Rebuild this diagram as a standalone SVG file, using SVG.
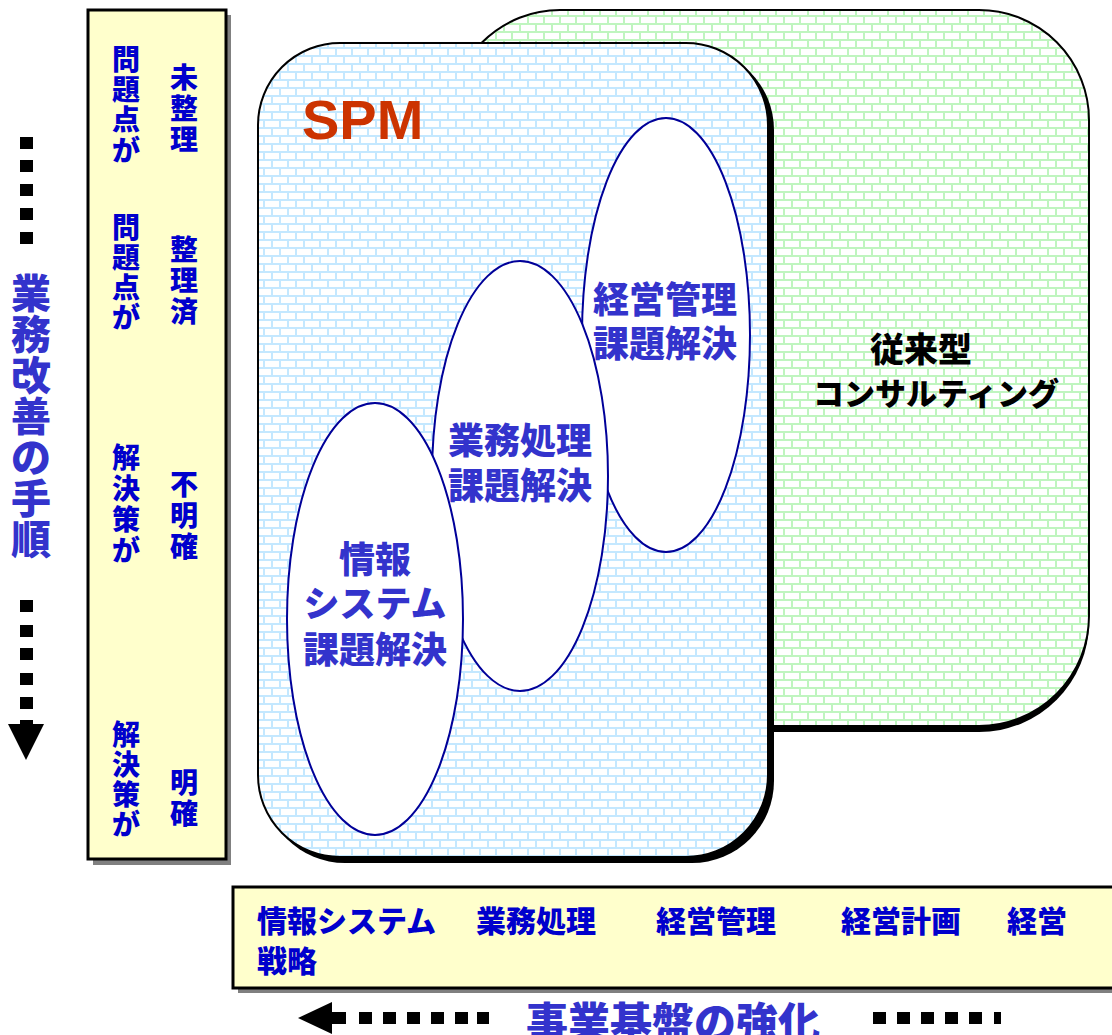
<svg xmlns="http://www.w3.org/2000/svg" width="1112" height="1035" viewBox="0 0 1112 1035">
<defs>
<pattern id="brickGreen" patternUnits="userSpaceOnUse" width="16" height="16">
<rect width="16" height="16" fill="#bff5bf"/>
<rect x="1" y="1" width="14" height="6" fill="#ffffff"/>
<rect x="-7" y="9" width="14" height="6" fill="#ffffff"/>
<rect x="9" y="9" width="14" height="6" fill="#ffffff"/>
</pattern>
<pattern id="brickBlue" patternUnits="userSpaceOnUse" width="16" height="16">
<rect width="16" height="16" fill="#c4e8ff"/>
<rect x="1" y="1" width="14" height="6" fill="#ffffff"/>
<rect x="-7" y="9" width="14" height="6" fill="#ffffff"/>
<rect x="9" y="9" width="14" height="6" fill="#ffffff"/>
</pattern>
<style>
.jp{font-family:"Noto Sans CJK JP","Noto Sans CJK SC",sans-serif;font-weight:900}
.deep{fill:#0000cc}
.mid{fill:#3333cc}
.ell{fill:#ffffff;stroke:#000099;stroke-width:2}
.sq{fill:#000000}
.ybox{fill:#ffffcc;stroke:#000000;stroke-width:3}
.shadowG{fill:#808080}
</style>
</defs>

<g id="consulting">
<rect x="455" y="15" width="634" height="717" rx="110" ry="110" fill="#000000"/>
<rect x="450" y="10" width="639" height="716" rx="110" ry="110" fill="url(#brickGreen)" stroke="#000000" stroke-width="2"/>
<text class="jp" x="921" y="362" font-size="34" text-anchor="middle" fill="#000000">従来型</text>
<text class="jp" x="936" y="405" font-size="31" text-anchor="middle" fill="#000000">コンサルティング</text>
</g>

<g id="spm">
<rect x="263" y="48" width="511" height="815" rx="82" ry="82" fill="#000000"/>
<rect x="258" y="43" width="510" height="814" rx="82" ry="82" fill="url(#brickBlue)" stroke="#000000" stroke-width="2"/>
<text x="302" y="139" font-family="'Liberation Sans',Arial,sans-serif" font-weight="700" font-size="56" fill="#cc3300">SPM</text>
</g>

<g id="ellipse-keiei">
<ellipse class="ell" cx="666" cy="335" rx="84" ry="217"/>
</g>
<g id="ellipse-gyomu">
<ellipse class="ell" cx="520" cy="476" rx="88" ry="215"/>
</g>
<g id="ellipse-joho">
<ellipse class="ell" cx="375" cy="619" rx="88" ry="216"/>
</g>
<g id="ellipse-labels" class="jp mid" font-size="36" text-anchor="middle">
<text x="665" y="313">経営管理</text>
<text x="665" y="357">課題解決</text>
<text x="520" y="454">業務処理</text>
<text x="520" y="499">課題解決</text>
<text x="375" y="573">情報</text>
<text x="375" y="617">システム</text>
<text x="375" y="663">課題解決</text>
</g>

<g id="steps-box">
<rect class="shadowG" x="93" y="15" width="138" height="850"/>
<rect class="ybox" x="88" y="10" width="138" height="849"/>
<g class="jp deep" font-size="28" text-anchor="middle">
<text x="126"><tspan x="126" y="70">問</tspan><tspan x="126" y="100">題</tspan><tspan x="126" y="130">点</tspan><tspan x="126" y="161">が</tspan></text>
<text x="184"><tspan x="184" y="88">未</tspan><tspan x="184" y="119">整</tspan><tspan x="184" y="150">理</tspan></text>
<text x="126"><tspan x="126" y="238">問</tspan><tspan x="126" y="268">題</tspan><tspan x="126" y="298">点</tspan><tspan x="126" y="328">が</tspan></text>
<text x="184"><tspan x="184" y="260">整</tspan><tspan x="184" y="291">理</tspan><tspan x="184" y="322">済</tspan></text>
<text x="126"><tspan x="126" y="468">解</tspan><tspan x="126" y="499">決</tspan><tspan x="126" y="530">策</tspan><tspan x="126" y="561">が</tspan></text>
<text x="184"><tspan x="184" y="495">不</tspan><tspan x="184" y="526">明</tspan><tspan x="184" y="557">確</tspan></text>
<text x="126"><tspan x="126" y="745">解</tspan><tspan x="126" y="775">決</tspan><tspan x="126" y="805">策</tspan><tspan x="126" y="835">が</tspan></text>
<text x="184"><tspan x="184" y="793">明</tspan><tspan x="184" y="824">確</tspan></text>
</g>
</g>

<g id="domain-box">
<rect class="shadowG" x="238" y="892" width="880" height="101"/>
<rect class="ybox" x="233" y="887" width="885" height="101"/>
<g class="jp deep" font-size="30">
<text x="257" y="932">情報システム</text>
<text x="476" y="932">業務処理</text>
<text x="656" y="932">経営管理</text>
<text x="841" y="932">経営計画</text>
<text x="1007" y="932">経営</text>
<text x="257" y="972">戦略</text>
</g>
</g>

<g id="connectors">
<g id="arrow-vertical">
<rect class="sq" x="20" y="137" width="13" height="12"/>
<rect class="sq" x="20" y="160" width="13" height="12"/>
<rect class="sq" x="20" y="184" width="13" height="12"/>
<rect class="sq" x="20" y="208" width="13" height="12"/>
<rect class="sq" x="20" y="232" width="13" height="12"/>
<rect class="sq" x="20" y="600" width="13" height="12"/>
<rect class="sq" x="20" y="625" width="13" height="12"/>
<rect class="sq" x="20" y="648" width="13" height="12"/>
<rect class="sq" x="20" y="673" width="13" height="12"/>
<rect class="sq" x="20" y="697" width="13" height="12"/>
<rect class="sq" x="20" y="720" width="13" height="6"/>
<polygon class="sq" points="8,724 44,724 26,760"/>
</g>
<g id="arrow-horizontal">
<polygon class="sq" points="298,1018 332,1002 332,1034"/>
<rect class="sq" x="330" y="1012" width="16" height="12"/>
<rect class="sq" x="359" y="1012" width="13" height="12"/>
<rect class="sq" x="383" y="1012" width="13" height="12"/>
<rect class="sq" x="407" y="1012" width="13" height="12"/>
<rect class="sq" x="431" y="1012" width="13" height="12"/>
<rect class="sq" x="455" y="1012" width="13" height="12"/>
<rect class="sq" x="477" y="1012" width="12" height="12"/>
<rect class="sq" x="873" y="1012" width="13" height="12"/>
<rect class="sq" x="897" y="1012" width="13" height="12"/>
<rect class="sq" x="921" y="1012" width="13" height="12"/>
<rect class="sq" x="945" y="1012" width="13" height="12"/>
<rect class="sq" x="969" y="1012" width="13" height="12"/>
<rect class="sq" x="994" y="1012" width="7" height="12"/>
</g>
</g>

<g id="labels-axis" class="jp mid">
<text font-size="40" text-anchor="middle"><tspan x="31" y="308">業</tspan><tspan x="31" y="349">務</tspan><tspan x="31" y="390">改</tspan><tspan x="31" y="431">善</tspan><tspan x="31" y="472">の</tspan><tspan x="31" y="513">手</tspan><tspan x="31" y="554">順</tspan></text>
<text x="673" y="1038" font-size="42" text-anchor="middle">事業基盤の強化</text>
</g>
</svg>
